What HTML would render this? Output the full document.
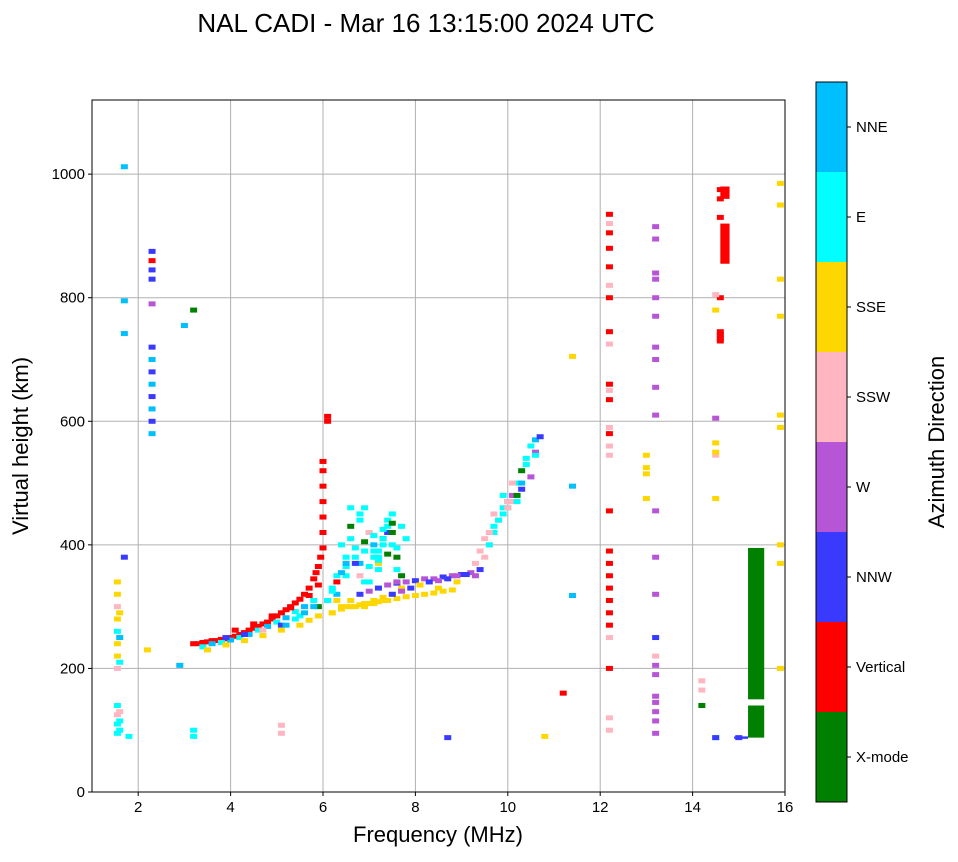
<!DOCTYPE html>
<html><head><meta charset="utf-8"><style>
body{margin:0;background:#fff;width:958px;height:857px;overflow:hidden;font-family:"Liberation Sans",sans-serif}
</style></head><body>
<svg id="c" width="958" height="857" xmlns="http://www.w3.org/2000/svg">
<text x="426" y="32" font-size="26" text-anchor="middle">NAL CADI - Mar 16 13:15:00 2024 UTC</text>
<g id="grid"></g><g id="marks"></g><g id="axes"></g><g id="cbar"></g>
<text x="438" y="842" font-size="22" text-anchor="middle">Frequency (MHz)</text>
<text x="28" y="446" font-size="22" text-anchor="middle" transform="rotate(-90 28 446)">Virtual height (km)</text>
<text x="944" y="442" font-size="22" text-anchor="middle" transform="rotate(-90 944 442)">Azimuth Direction</text>
</svg>
<script>
const xTicks=[2,4,6,8,10,12,14,16];
const yTicks=[0,200,400,600,800,1000];
const dirLabels=["X-mode","Vertical","NNW","W","SSW","SSE","E","NNE"];
const dirColors=["#008000","#ff0000","#3a3aff","#b655d6","#ffb6c1","#ffd700","#00ffff","#00bfff"];
// echoes: frequency (MHz), height (km), direction index
const freqs=[3.2,3.3,3.4,3.5,3.6,3.7,3.8,3.9,4.0,4.1,4.2,4.3,4.4,4.5,4.6,4.7,4.8,4.9,5.0,5.1,5.2,5.3,5.4,5.5,5.6,5.7,5.8,5.85,5.9,5.95,6.0,6.0,6.0,6.0,6.0,6.0,6.0,6.1,6.1,
3.4,3.6,3.8,4.0,4.2,4.4,4.6,4.8,5.0,5.2,5.4,5.6,5.8,3.9,4.3,4.7,5.1,5.5,5.9,6.1,6.3,
3.5,3.9,4.3,4.7,5.1,5.5,5.7,5.9,6.2,6.4,6.6,6.8,7.0,7.2,7.4,7.6,7.8,8.0,8.2,8.4,8.6,8.8,
6.8,7.0,7.2,7.4,7.6,7.8,8.0,8.2,8.4,8.6,8.8,9.0,9.2,9.4,8.5,8.9,9.3,
6.2,6.3,6.5,6.6,6.8,6.9,7.0,7.1,7.2,7.3,7.4,7.5,7.6,7.7,6.4,6.6,6.8,7.0,7.2,7.4,7.6,6.3,6.5,6.7,6.9,7.1,7.3,7.5,6.6,6.8,7.0,7.2,7.4,
6.5,6.7,6.9,7.1,7.3,7.5,7.7,6.8,7.2,7.6,
9.3,9.5,9.6,9.7,9.8,9.9,10.0,10.1,10.2,10.3,10.4,10.5,10.6,10.7,9.5,9.7,9.9,10.1,10.3,10.5,9.6,9.8,10.0,10.2,10.4,10.6,9.4,10.0,10.3,10.6,
1.55,1.55,1.55,1.55,1.55,1.55,1.55,1.55,1.55,1.55,1.55,1.55,1.6,1.6,1.6,1.6,1.6,1.6,1.7,1.7,
2.3,2.3,2.3,2.3,2.3,2.3,2.3,2.3,2.3,2.3,2.3,2.3,2.3,
12.2,12.2,12.2,12.2,12.2,12.2,12.2,12.2,12.2,12.2,12.2,12.2,12.2,12.2,12.2,12.2,12.2,12.2,12.2,12.2,12.2,12.2,12.2,12.2,12.2,12.2,12.2,12.2,
13.2,13.2,13.2,13.2,13.2,13.2,13.2,13.2,13.2,13.2,13.2,13.2,13.2,13.2,13.2,13.2,13.2,13.2,13.2,13.2,13.2,13.2,13.0,13.0,13.0,13.0,
14.6,14.6,14.6,14.6,14.6,14.6,14.6,14.6,14.2,14.2,14.2,14.5,14.5,14.5,14.5,14.5,14.5,14.5,14.5,
15.9,15.9,15.9,15.9,15.9,15.9,15.9,15.9,15.9,
11.4,11.4,11.4,10.8,11.2,8.7,14.5,15.0,5.1,5.1,3.2,3.2,3.0,2.2,1.7,1.7,1.8,3.2,2.9,
4.1,4.5,4.9,5.3,5.7,5.9,5.8,5.6,5.4,5.2,6.1,6.2,6.3,6.4,6.5,6.2,6.4,6.6,6.9,7.1,7.3,7.5,7.7,7.9,8.1,8.3,8.5,8.7,8.9,9.1,
7.0,7.2,7.4,7.6,7.8,6.7,6.9,7.1,7.3,7.5,6.5,6.7,6.9,7.1,7.3,7.5,7.7,9.6,9.8,10.0,10.2,9.7,9.9,10.1];
const heights=[240,240,242,243,245,245,247,248,250,252,255,258,262,265,268,272,275,280,285,290,295,300,306,312,320,330,345,355,365,380,395,420,445,470,495,520,535,600,608,
235,240,242,246,250,255,262,268,275,282,292,300,310,250,255,262,270,285,300,310,320,
230,238,245,253,262,270,278,285,290,296,300,303,305,308,310,313,316,318,320,322,325,327,
320,325,330,335,338,340,342,345,345,348,350,352,355,360,330,340,350,
330,350,380,410,440,460,420,390,360,400,430,450,380,350,400,430,370,340,390,420,360,310,350,370,340,380,410,400,460,450,420,380,440,
300,300,305,310,315,320,330,350,370,340,
370,380,400,420,440,460,470,480,500,520,540,560,570,575,410,430,450,470,490,510,400,440,460,480,530,550,390,470,500,545,
95,110,125,140,200,220,240,260,280,300,320,340,100,115,130,210,250,290,1012,795,
580,600,620,640,660,680,700,720,830,845,860,875,790,
100,120,200,250,270,290,310,330,350,370,390,455,545,560,580,590,635,650,660,725,745,800,820,850,880,905,920,935,
95,115,130,145,155,190,205,220,250,320,380,455,610,655,700,720,770,800,830,840,895,915,515,475,525,545,
730,735,740,745,800,930,960,975,180,165,140,475,545,550,565,605,780,805,88,
200,370,400,590,610,770,830,950,985,
495,318,705,90,160,88,88,88,95,108,100,90,755,230,380,742,90,780,205,
262,272,285,298,318,335,300,290,280,270,310,325,340,355,365,290,300,310,300,305,310,320,325,330,335,340,342,345,350,352,
365,375,385,395,410,395,405,415,425,435,370,380,390,400,410,420,430,420,440,460,470,450,480,500];
const dirs=[1,1,1,1,1,1,1,1,1,1,1,1,1,1,1,1,1,1,1,1,1,1,1,1,1,1,1,1,1,1,1,1,1,1,1,1,1,1,1,
6,7,6,7,6,7,6,7,6,7,6,7,6,2,2,4,2,6,0,6,7,
5,5,5,5,5,5,5,5,5,5,5,5,5,5,5,5,5,5,5,5,5,5,
2,3,2,3,2,3,2,3,3,2,3,2,3,2,5,5,3,
6,6,6,6,6,6,6,6,6,6,6,6,0,0,6,0,7,6,6,2,6,5,6,2,6,6,0,6,6,6,4,6,6,
5,5,5,5,5,5,5,4,5,3,
4,4,4,6,4,6,7,3,6,0,6,6,7,2,4,6,6,4,2,3,6,4,6,0,6,3,4,4,7,6,
6,6,4,6,4,5,5,6,5,4,5,5,6,6,4,6,7,5,7,7,
7,2,7,2,7,2,7,2,2,2,1,2,3,
4,4,1,4,1,1,1,1,1,1,1,1,4,4,1,4,1,4,1,4,1,1,4,1,1,1,4,1,
3,3,3,3,3,3,3,4,2,3,3,3,3,3,3,3,3,3,3,3,3,3,5,5,5,5,
1,1,1,1,1,1,1,1,4,4,0,5,4,5,5,3,5,4,6,
5,5,5,5,5,5,5,5,5,
7,7,5,5,1,2,2,2,4,4,6,6,7,5,2,7,6,0,7,
1,1,1,1,1,1,7,7,6,7,6,6,1,7,6,5,5,5,5,5,5,2,3,2,5,2,3,2,3,2,
6,6,0,6,6,6,0,6,6,0,7,6,6,7,6,0,6,4,6,4,6,4,6,4];
// block echoes: start freq, end freq, bottom km, top km, direction
const blockF0=[15.2,15.2,14.6,14.6,14.9];
const blockF1=[15.55,15.55,14.8,14.8,15.2];
const blockH0=[88,150,855,960,86];
const blockH1=[140,395,920,980,90];
const blockDir=[0,0,1,1,2];

const NS="http://www.w3.org/2000/svg";
const X0=92,X1=785,Y0=792,Y1=100;
const xs=f=>X0+(f-1)/(16-1)*(X1-X0);
const ys=h=>Y0-h/1120*(Y0-Y1);
function mk(t,a,p){const e=document.createElementNS(NS,t);for(const k in a)e.setAttribute(k,a[k]);(p||document.getElementById('c')).appendChild(e);return e;}
const grid=document.getElementById('grid'),marks=document.getElementById('marks'),axes=document.getElementById('axes'),cb=document.getElementById('cbar');
xTicks.forEach(t=>{const x=xs(t);
 const g=mk('line',{x1:x,x2:x,y1:Y1,y2:Y0,stroke:'#b0b0b0','stroke-width':1},grid);
 
 
 mk('line',{x1:x,x2:x,y1:Y0,y2:Y0+4,stroke:'#000'},axes);
 const l=mk('text',{x:x,y:Y0+20,'font-size':15,'text-anchor':'middle'},axes);l.textContent=t;
 
 });
yTicks.forEach(t=>{const y=ys(t);
 const g=mk('line',{x1:X0,x2:X1,y1:y,y2:y,stroke:'#b0b0b0','stroke-width':1},grid);
 
 
 mk('line',{x1:X0-4,x2:X0,y1:y,y2:y,stroke:'#000'},axes);
 const l=mk('text',{x:X0-7,y:y+5,'font-size':15,'text-anchor':'end'},axes);l.textContent=t;
 
 });
const fr=mk('rect',{x:X0,y:Y1,width:X1-X0,height:Y0-Y1,fill:'none',stroke:'#000'},axes);


freqs.forEach((f,i)=>{const r=mk('rect',{x:xs(f)-3.5,y:ys(heights[i])-2.5,width:7,height:5,fill:dirColors[dirs[i]]},marks);
 
 });
blockF0.forEach((f,i)=>{const r=mk('rect',{x:xs(f),y:ys(blockH1[i]),width:xs(blockF1[i])-xs(f),height:ys(blockH0[i])-ys(blockH1[i]),fill:dirColors[blockDir[i]]},marks);
 
 });
const CX=816,CW=31,CT=82,CB=802,seg=(CB-CT)/dirLabels.length;
dirLabels.forEach((d,i)=>{const y=CB-(i+1)*seg;
 const r=mk('rect',{x:CX,y:y,width:CW,height:seg,fill:dirColors[i]},cb);
 
 
 mk('line',{x1:CX+CW,x2:CX+CW+4,y1:y+seg/2,y2:y+seg/2,stroke:'#000'},cb);
 const l=mk('text',{x:CX+CW+9,y:y+seg/2+5,'font-size':15},cb);l.textContent=d;
 
 });
mk('rect',{x:CX,y:CT,width:CW,height:CB-CT,fill:'none',stroke:'#000'},cb);
</script>
</body></html>
